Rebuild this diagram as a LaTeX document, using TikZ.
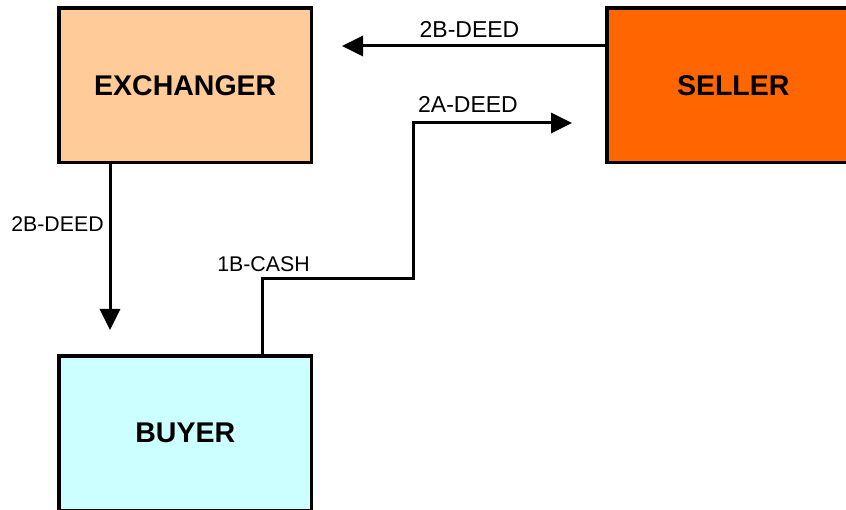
\documentclass[tikz,border=0pt]{standalone}
\usepackage{fontspec}
\setmainfont{Liberation Sans}
\usetikzlibrary{arrows.meta}
\definecolor{exfill}{RGB}{255,204,153}
\definecolor{sefill}{RGB}{255,102,0}
\definecolor{bufill}{RGB}{204,255,255}
\begin{document}
\begin{tikzpicture}[x=1pt,y=-1pt,
  box/.style={draw=black, line width=3.5pt, minimum width=252.5pt, minimum height=154.5pt,
    inner sep=0pt, font=\fontsize{28.5}{30}\selectfont\bfseries},
  arr/.style={draw=black, line width=3pt, line join=miter, -{Triangle[length=21pt,width=20pt]}},
  conn/.style={draw=black, line width=3pt, line join=miter},
  lblbig/.style={inner sep=0pt, anchor=base, font=\fontsize{23}{25}\selectfont},
  lblsmall/.style={inner sep=0pt, anchor=base, font=\fontsize{21.3}{23}\selectfont}]
\useasboundingbox (0,0) rectangle (846,510);
\clip (0,0) rectangle (846,510);
\node[box, fill=exfill] (ex) at (185.25,85.25) {EXCHANGER};
\node[box, fill=sefill] (se) at (733.25,85.25) {SELLER};
\node[box, fill=bufill] (bu) at (185.25,433.25) {BUYER};
% connectors
\coordinate (t1) at (342,46);
\draw[arr] (se.west |- t1) -- (t1);
\coordinate (t2) at (110,330);
\draw[arr] (ex.south -| t2) -- (t2);
\coordinate (c1) at (262,279);
\coordinate (c2) at (413,279);
\coordinate (t3) at (572,123);
\draw[arr] (bu.north -| c1) -- (c1) -- (c2) -- (c2 |- t3) -- (t3);
% labels
\node[lblbig] (l1) at (469.5,38) {2B-DEED};
\node[lblbig] (l2) at (468,113) {2A-DEED};
\node[lblsmall] (l3) at (57.5,232) {2B-DEED};
\node[lblsmall] (l4) at (263.5,271.5) {1B-CASH};
\end{tikzpicture}
\end{document}
